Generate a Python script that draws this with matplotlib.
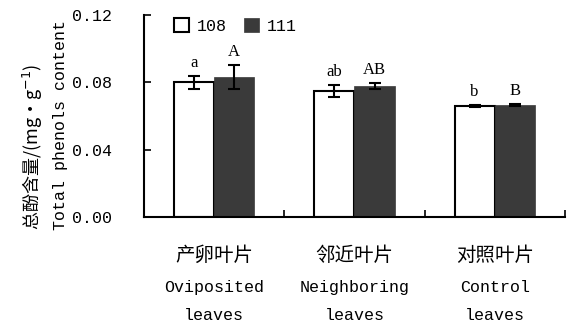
import matplotlib
matplotlib.use("Agg")
import matplotlib.pyplot as plt
import numpy as np

categories_cn = ["产卵叶片", "邻近叶片", "对照叶片"]
categories_en = ["Oviposited\nleaves", "Neighboring\nleaves", "Control\nleaves"]
series_names = ["108", "111"]
values_108 = [0.080, 0.0749, 0.0660]
errors_108 = [0.0040, 0.0033, 0.0005]
values_111 = [0.0832, 0.0778, 0.0667]
errors_111 = [0.0070, 0.0018, 0.0006]
letters_108 = ["a", "ab", "b"]
letters_111 = ["A", "AB", "B"]
yticks = [0.00, 0.04, 0.08, 0.12]
ytick_labels = ["0.00", "0.04", "0.08", "0.12"]

mono = ["Liberation Mono", "Noto Sans CJK SC", "DejaVu Sans"]
cjk = ["Noto Sans CJK SC", "DejaVu Sans"]
plt.rcParams['font.family'] = mono

fig = plt.figure(figsize=(5.74, 3.26), dpi=100)
ax = fig.add_axes([0.251, 0.334, 0.733, 0.620])

x = np.arange(len(categories_cn)) + 0.5
w = 0.286
ekw = dict(elinewidth=1.5, capsize=4, capthick=1.5, ecolor="black")
b1 = ax.bar(x - w/2, values_108, w, yerr=errors_108, color="white",
            edgecolor="black", linewidth=1.5, error_kw=ekw, label=series_names[0])
b2 = ax.bar(x + w/2, values_111, w, yerr=errors_111, color="#3a3a3a",
            edgecolor="#3a3a3a", linewidth=0.5, error_kw=ekw, label=series_names[1])

for xi, v, e, t in zip(x - w/2, values_108, errors_108, letters_108):
    ax.text(xi, v + e + 0.003, t, ha="center", va="bottom", fontsize=12,
            family=["Liberation Serif"])
for xi, v, e, t in zip(x + w/2, values_111, errors_111, letters_111):
    ax.text(xi, v + e + 0.003, t, ha="center", va="bottom", fontsize=12,
            family=["Liberation Serif"])

ax.set_xlim(0, 3)
ax.set_ylim(0, 0.12)
ax.set_yticks(yticks)
ax.set_yticklabels(ytick_labels, fontsize=12)
ax.set_xticks([0, 1, 2, 3])
ax.set_xticklabels([])
ax.tick_params(axis="y", direction="in", length=5, width=1.2, pad=23)
ax.tick_params(axis="x", direction="in", length=5, width=1.2)
for s in ["top", "right"]:
    ax.spines[s].set_visible(False)
for s in ["left", "bottom"]:
    ax.spines[s].set_linewidth(1.5)

for xi, cn, en in zip(x, categories_cn, categories_en):
    ax.text(xi, -0.0226, cn, ha="center", va="center", fontsize=14,
            family=cjk, transform=ax.transData, clip_on=False)
    l1, l2 = en.split("\n")
    ax.text(xi, -0.0416, l1, ha="center", va="center", fontsize=12,
            transform=ax.transData, clip_on=False)
    ax.text(xi, -0.0582, l2, ha="center", va="center", fontsize=12,
            transform=ax.transData, clip_on=False)

fig.text(0.058, 0.294, "总酚含量/(mg·g$^{-1}$)", rotation=90, ha="center",
         va="bottom", fontsize=13, family=cjk)
fig.text(0.106, 0.294, "Total phenols content", rotation=90, ha="center",
         va="bottom", fontsize=12)

leg = ax.legend(handles=[b1, b2], labels=series_names, loc="upper left",
                bbox_to_anchor=(0.035, 1.06), ncol=2, frameon=False,
                fontsize=12, handlelength=0.9, handleheight=0.9,
                handletextpad=0.5, columnspacing=1.0)

fig.savefig("out.png", dpi=100)
